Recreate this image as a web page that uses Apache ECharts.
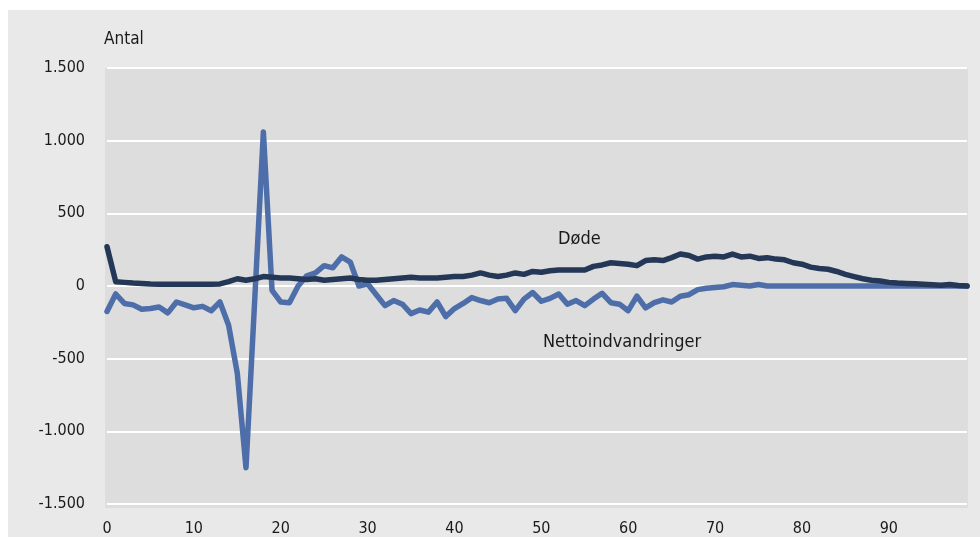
<!DOCTYPE html>
<html>
<head>
<meta charset="utf-8">
<script src="https://cdn.jsdelivr.net/npm/echarts@6/dist/echarts.min.js"></script>
<style>
html,body{margin:0;padding:0;background:#ffffff;}
#chart{width:980px;height:537px;}
</style>
</head>
<body>
<div id="chart"></div>
<script>
// Alder (age) 0..99
const ages = Array.from({length: 100}, (_, i) => i);

const doede = [
  270, 30, 25, 20, 18, 14, 12, 12, 12, 12,
  12, 12, 12, 14, 30, 50, 40, 50, 65, 60,
  55, 55, 50, 45, 50, 40, 45, 50, 55, 45,
  40, 40, 45, 50, 55, 60, 55, 55, 55, 60,
  65, 65, 75, 90, 75, 65, 75, 90, 80, 100,
  95, 105, 110, 110, 110, 110, 135, 145, 160, 155,
  150, 140, 175, 180, 175, 195, 220, 210, 185, 200,
  205, 200, 220, 200, 205, 190, 195, 185, 180, 160,
  150, 130, 120, 115, 100, 80, 65, 50, 40, 35,
  25, 20, 18, 15, 12, 8, 5, 10, 3, 0
];

const nettoindvandringer = [
  -175, -55, -120, -130, -160, -155, -145, -185, -110, -130,
  -150, -140, -170, -110, -270, -600, -1250, -100, 1060, -30,
  -110, -115, 0, 70, 90, 140, 125, 200, 165, 0,
  15, -60, -135, -100, -125, -190, -165, -180, -110, -210,
  -155, -120, -80, -100, -115, -90, -85, -170, -90, -45,
  -105, -85, -55, -125, -100, -135, -90, -50, -115, -125,
  -170, -70, -150, -115, -95, -110, -70, -60, -25, -15,
  -10, -5, 10, 5, 0, 10, 0, 0, 0, 0,
  0, 0, 0, 0, 0, 0, 0, 0, 0, 0,
  0, 0, 0, 0, 0, 0, 0, 0, 0, 0
];

const yTicks = [-1500, -1000, -500, 0, 500, 1000, 1500];
const xTicks = [0, 10, 20, 30, 40, 50, 60, 70, 80, 90];

const FONT = '"Liberation Sans Narrow", "DejaVu Sans Condensed", "Open Sans", sans-serif';

function fmt(v) {
  const s = Math.abs(v).toString();
  const withDots = s.replace(/\B(?=(\d{3})+(?!\d))/g, '.');
  return (v < 0 ? '-' : '') + withDots;
}

const chart = echarts.init(document.getElementById('chart'), null, {renderer: 'canvas'});

chart.setOption({
  backgroundColor: '#ffffff',
  animation: false,
  graphic: [
    {type: 'rect', z: -10, shape: {x: 8, y: 10, width: 980, height: 540}, style: {fill: '#e9e9e9'}},
    {type: 'rect', z: -9, shape: {x: 105, y: 68, width: 863, height: 440}, style: {fill: '#dddddd'}},
    {type: 'text', left: 104, top: 31, style: {text: 'Antal', font: '17px ' + FONT, fill: '#1a1a1a'}},
    {type: 'text', left: 558, top: 230, style: {text: 'Døde', font: '18px ' + FONT, fill: '#1a1a1a'}},
    {type: 'text', left: 543, top: 333, style: {text: 'Nettoindvandringer', font: '18px ' + FONT, fill: '#1a1a1a'}}
  ],
  grid: {left: 107, right: 13, top: 68, bottom: 29, containLabel: false},
  xAxis: {
    type: 'value',
    min: 0,
    max: 99,
    interval: 10,
    axisLine: {show: false},
    axisTick: {show: false},
    splitLine: {show: false},
    axisLabel: {
      margin: 17,
      fontSize: 16,
      fontFamily: FONT,
      color: '#1a1a1a',
      showMaxLabel: false,
      formatter: v => xTicks.includes(v) ? String(v) : ''
    }
  },
  yAxis: {
    type: 'value',
    min: yTicks[0],
    max: yTicks[yTicks.length - 1],
    interval: 500,
    axisLine: {show: false},
    axisTick: {show: false},
    splitLine: {show: true, lineStyle: {color: '#ffffff', width: 2}},
    axisLabel: {
      margin: 22,
      fontSize: 16,
      fontFamily: FONT,
      color: '#1a1a1a',
      formatter: v => fmt(v)
    }
  },
  series: [
    {
      name: 'Nettoindvandringer',
      type: 'line',
      data: ages.map((a, i) => [a, nettoindvandringer[i]]),
      symbol: 'none',
      lineStyle: {color: '#4e6ea9', width: 5.5, cap: 'round', join: 'round'},
      z: 2
    },
    {
      name: 'Døde',
      type: 'line',
      data: ages.map((a, i) => [a, doede[i]]),
      symbol: 'none',
      lineStyle: {color: '#243757', width: 5.5, cap: 'round', join: 'round'},
      z: 3
    }
  ]
});
</script>
</body>
</html>
